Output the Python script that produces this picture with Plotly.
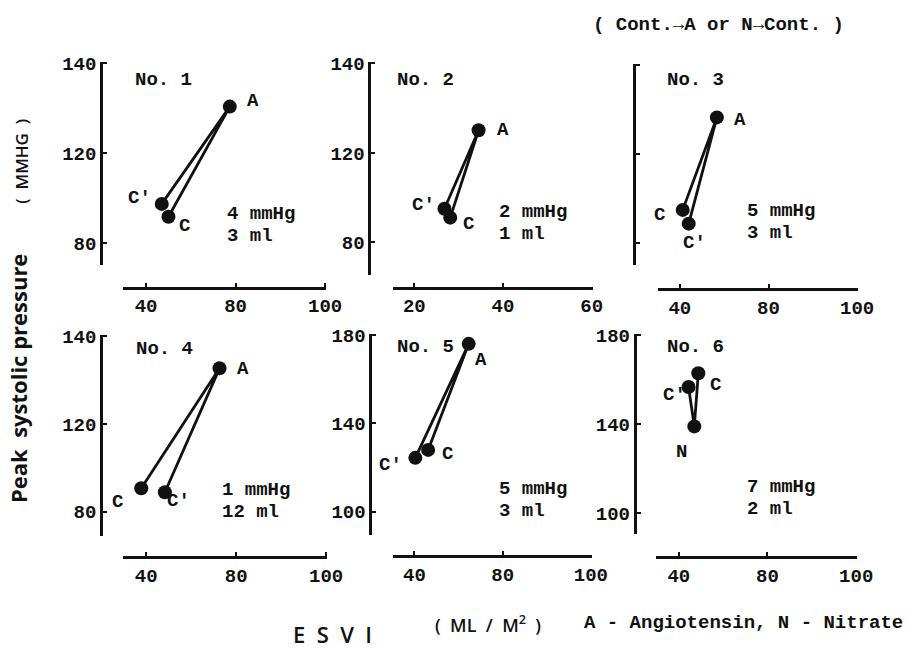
import plotly.graph_objects as go

W, H = 921, 648

# ---------------- data ----------------
# order of points along the drawn path: C -> A -> C'  (panel 6: C' -> N -> C)
p1_labels = ["C", "A", "C′"]
p1_x = [50.0, 77.4, 47.0]
p1_y = [91.8, 140.8, 97.5]

p2_labels = ["C", "A", "C′"]
p2_x = [28.1, 34.5, 26.8]
p2_y = [91.0, 130.1, 95.0]

p3_labels = ["C", "A", "C′"]
p3_x = [41.3, 56.7, 44.0]
p3_y = [95.0, 136.6, 88.8]

p4_labels = ["C", "A", "C′"]
p4_x = [37.8, 72.6, 48.3]
p4_y = [90.7, 145.3, 88.9]

p5_labels = ["C", "A", "C′"]
p5_x = [46.2, 64.6, 40.4]
p5_y = [128.0, 176.0, 124.4]

p6_labels = ["C′", "N", "C"]
p6_x = [44.4, 47.0, 48.8]
p6_y = [156.6, 138.9, 162.8]

panel_names = ["No. 1", "No. 2", "No. 3", "No. 4", "No. 5", "No. 6"]
panel_mmhg = ["4 mmHg", "2 mmHg", "5 mmHg", "1 mmHg", "5 mmHg", "7 mmHg"]
panel_ml = ["3 ml", "1 ml", "3 ml", "12 ml", "3 ml", "2 ml"]

x_tickvals_a = [40, 80, 120]
x_ticktext_a = ["40", "80", "100"]
x_tickvals_b = [20, 40, 60]
x_ticktext_b = ["20", "40", "60"]
y_tickvals_a = [80, 120, 160]
y_ticktext_a = ["80", "120", "140"]
y_tickvals_b = [100, 140, 180]
y_ticktext_b = ["100", "140", "180"]

# ---------------- layout / style ----------------
MONO = "Liberation Mono"
SANS = "Open Sans"
BLACK = "#111111"
FS = 19

data_sets = [
    (p1_x, p1_y, p1_labels), (p2_x, p2_y, p2_labels), (p3_x, p3_y, p3_labels),
    (p4_x, p4_y, p4_labels), (p5_x, p5_y, p5_labels), (p6_x, p6_y, p6_labels),
]

# geometry in pixels: x-domain, y-domain (top,bottom), x-axis line y, y-axis line x
geom = [
    dict(xd=(125, 332), yd=(55, 260), xl=283, yl=103, xr=(29.6, 120.5), yr=(70.4, 160.5)),
    dict(xd=(400, 603), yd=(55, 270), xl=283, yl=376, xr=(15.2, 60.2), yr=(65.5, 160.5)),
    dict(xd=(670, 873), yd=(57, 260), xl=285, yl=645, xr=(30.3, 120.3), yr=(70.3, 160.5)),
    dict(xd=(125, 333), yd=(331, 535), xl=556, yl=103, xr=(29.6, 120.5), yr=(68.8, 160.5)),
    dict(xd=(400, 602), yd=(330, 534), xl=555, yl=377, xr=(30.3, 120.3), yr=(89.3, 180.5)),
    dict(xd=(668, 872), yd=(330, 533), xl=556, yl=646, xr=(29.9, 120.3), yr=(90.3, 180.5)),
]
xticks = [(x_tickvals_a, x_ticktext_a), (x_tickvals_b, x_ticktext_b), (x_tickvals_a, x_ticktext_a),
          (x_tickvals_a, x_ticktext_a), (x_tickvals_a, x_ticktext_a), (x_tickvals_a, x_ticktext_a)]
yticks = [(y_tickvals_a, y_ticktext_a), (y_tickvals_a, y_ticktext_a), (y_tickvals_a, y_ticktext_a),
          (y_tickvals_a, y_ticktext_a), (y_tickvals_b, y_ticktext_b), (y_tickvals_b, y_ticktext_b)]
show_ylabels = [True, True, False, True, True, True]

# label offsets (dx, dy-up) in px for each point label
label_shifts = [
    [(16, -9), (23, 6), (-22, 6)],
    [(18, -6), (24, 0), (-21, 4)],
    [(-23, -5), (23, -3), (6, -19)],
    [(-24, -14), (23, -1), (14, -9)],
    [(19, -4), (12, -16), (-25, -7)],
    [(-14, -8), (-13, -26), (17, -12)],
]
# positions of "No. n" and the notes (px, left edge / middle)
name_pos = [(136, 73), (403, 73), (678, 73), (137, 345), (403, 343), (678, 343)]
note_pos = [(230, 209), (507, 207), (759, 206), (225, 488), (507, 487), (759, 485)]
NOTE_GAP = 22

fig = go.Figure()
annotations = []
layout_axes = {}


def px2fx(x):
    return x / W


def px2fy(y):
    return 1 - y / H


def mono(size=FS):
    return dict(family=MONO, size=size, color=BLACK, weight="bold")


def paper_text(x, y, text, font, xanchor="center", yanchor="middle", angle=0):
    return dict(x=px2fx(x), y=px2fy(y), xref="paper", yref="paper", text=text,
                showarrow=False, xanchor=xanchor, yanchor=yanchor, textangle=angle,
                borderpad=0, font=font)


for i, ((xs, ys, labs), g) in enumerate(zip(data_sets, geom)):
    n = i + 1
    xa = "x" if n == 1 else f"x{n}"
    ya = "y" if n == 1 else f"y{n}"
    fig.add_trace(go.Scatter(
        x=xs, y=ys, xaxis=xa, yaxis=ya, mode="lines+markers",
        line=dict(color=BLACK, width=2.8),
        marker=dict(color=BLACK, size=14),
        cliponaxis=False, showlegend=False, hoverinfo="skip",
    ))
    for (xv, yv, lab, (dx, dy)) in zip(xs, ys, labs, label_shifts[i]):
        annotations.append(dict(
            x=xv, y=yv, xref=xa, yref=ya, text=lab, showarrow=False,
            xanchor="center", yanchor="middle", xshift=dx, yshift=dy, font=mono(),
        ))
    tv, tt = xticks[i]
    layout_axes["xaxis" if n == 1 else f"xaxis{n}"] = dict(
        domain=[px2fx(g["xd"][0]), px2fx(g["xd"][1])],
        range=list(g["xr"]), anchor="free", position=px2fy(g["xl"]),
        tickvals=tv, ticktext=tt, ticks="inside", ticklen=4, tickwidth=2, tickcolor=BLACK,
        showline=True, linewidth=3, linecolor=BLACK, showgrid=False, zeroline=False,
        tickfont=mono(), fixedrange=True,
    )
    tv, tt = yticks[i]
    layout_axes["yaxis" if n == 1 else f"yaxis{n}"] = dict(
        domain=[px2fy(g["yd"][1]), px2fy(g["yd"][0])],
        range=list(g["yr"]), anchor="free", position=px2fx(g["yl"]),
        tickvals=tv, ticktext=tt, ticks="inside", ticklen=4, tickwidth=2, tickcolor=BLACK,
        showticklabels=show_ylabels[i],
        showline=True, linewidth=3, linecolor=BLACK, showgrid=False, zeroline=False,
        tickfont=mono(), fixedrange=True,
    )
    nx, ny = name_pos[i]
    annotations.append(paper_text(nx, ny, panel_names[i], mono(), xanchor="left"))
    tx, ty = note_pos[i]
    annotations.append(paper_text(tx, ty, panel_mmhg[i], mono(), xanchor="left"))
    annotations.append(paper_text(tx, ty + NOTE_GAP, panel_ml[i], mono(), xanchor="left"))

# header and axis titles
annotations += [
    paper_text(731, 17, "( Cont.→A or N→Cont. )", mono()),
    paper_text(19, 375, "Peak  systolic pressure",
               dict(family=SANS, size=22, color=BLACK, weight="bold"), angle=-90),
    paper_text(21, 155, "(  MMHG  )", dict(family=SANS, size=17, color=BLACK, weight=600), angle=-90),
    paper_text(338, 634, "E  S  V  I", dict(family=SANS, size=22, color=BLACK, weight=600)),
    paper_text(497, 624, "(  ML  /  M<sup>2</sup>  )", dict(family=SANS, size=18, color=BLACK, weight=600)),
    paper_text(757, 623, "A - Angiotensin, N - Nitrate", mono()),
]

fig.update_layout(
    width=W, height=H, margin=dict(l=0, r=0, t=0, b=0),
    paper_bgcolor="white", plot_bgcolor="white",
    annotations=annotations, **layout_axes,
)

fig.write_html("out.html")
